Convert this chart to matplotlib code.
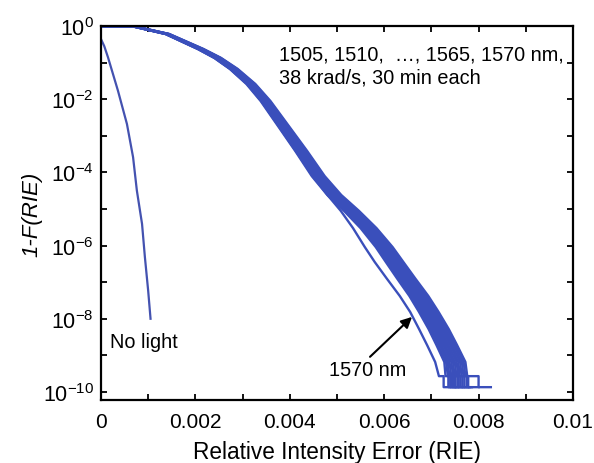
import matplotlib
matplotlib.use("Agg")
import matplotlib.pyplot as plt
from matplotlib.ticker import FixedLocator, MultipleLocator

plt.rcParams['font.family'] = ['Liberation Sans', 'DejaVu Sans']
plt.rcParams['mathtext.fontset'] = 'custom'
plt.rcParams['mathtext.rm'] = 'Liberation Sans'
plt.rcParams['mathtext.it'] = 'Liberation Sans:italic'
plt.rcParams['mathtext.default'] = 'regular'

# ---- data -----------------------------------------------------------------
# 1-F(RIE) levels shared by the wavelength curves
levels = [1.0, 0.957, 0.604, 0.235, 0.134, 0.0669, 0.026, 8.9e-3, 1.74e-3,
          3.85e-4, 7.9e-5, 2.4e-5, 8.9e-6, 3.0e-6, 9.1e-7, 3.55e-7, 1.23e-7,
          4.2e-8, 1.54e-8, 5.2e-9, 1.9e-9, 6.6e-10,
          2.7e-10, 2.7e-10, 1.35e-10, 1.35e-10]

wavelengths = [1505, 1510, 1515, 1520, 1525, 1530, 1535, 1540, 1545, 1550,
               1555, 1560, 1565, 1570]

rie_1505 = [0, 0.000727, 0.001414, 0.002121, 0.002485, 0.002828, 0.003192, 0.003505, 0.003899,
            0.004262, 0.004626, 0.004969, 0.005333, 0.005696, 0.00603, 0.006252, 0.006504,
            0.006767, 0.006979, 0.007191, 0.007363, 0.007535,
            0.00757, 0.00762, 0.00762, 0.00768]
rie_1510 = [0, 0.000738, 0.001435, 0.002153, 0.002522, 0.00287, 0.003239, 0.003557, 0.003957,
            0.004326, 0.004695, 0.005043, 0.005412, 0.005781, 0.006119, 0.006345, 0.006601,
            0.006868, 0.007083, 0.007298, 0.007472, 0.007647,
            0.00768, 0.00775, 0.00775, 0.00782]
rie_1515 = [0, 0.000713, 0.001386, 0.002079, 0.002435, 0.002772, 0.003128, 0.003435, 0.003821,
            0.004178, 0.004534, 0.004871, 0.005227, 0.005584, 0.00591, 0.006128, 0.006376,
            0.006633, 0.006841, 0.007049, 0.007217, 0.007385,
            0.00742, 0.00748, 0.00748, 0.00756]
rie_1520 = [0, 0.000745, 0.001449, 0.002174, 0.002546, 0.002898, 0.003271, 0.003591, 0.003995,
            0.004368, 0.00474, 0.005092, 0.005465, 0.005837, 0.006179, 0.006407, 0.006665,
            0.006935, 0.007152, 0.007369, 0.007545, 0.007721,
            0.00776, 0.0080, 0.0080, 0.00826]
rie_1525 = [0, 0.00072, 0.0014, 0.0021, 0.00246, 0.0028, 0.00316, 0.00347, 0.00386,
            0.00422, 0.00458, 0.00492, 0.00528, 0.00564, 0.00597, 0.00619, 0.00644,
            0.0067, 0.00691, 0.00712, 0.00729, 0.00746,
            0.00749, 0.00755, 0.00755, 0.00778]
rie_1530 = [0, 0.000731, 0.001421, 0.002132, 0.002497, 0.002842, 0.003207, 0.003522, 0.003918,
            0.004283, 0.004649, 0.004994, 0.005359, 0.005725, 0.00606, 0.006283, 0.006537,
            0.006801, 0.007014, 0.007227, 0.007399, 0.007572,
            0.0076, 0.00766, 0.00766, 0.00772]
rie_1535 = [0, 0.000706, 0.001372, 0.002058, 0.002411, 0.002744, 0.003097, 0.003401, 0.003783,
            0.004136, 0.004488, 0.004822, 0.005174, 0.005527, 0.005851, 0.006066, 0.006311,
            0.006566, 0.006772, 0.006978, 0.007144, 0.007311,
            0.00735, 0.0074, 0.0074, 0.0075]
rie_1540 = [0, 0.000742, 0.001442, 0.002163, 0.002534, 0.002884, 0.003255, 0.003574, 0.003976,
            0.004347, 0.004717, 0.005068, 0.005438, 0.005809, 0.006149, 0.006376, 0.006633,
            0.006901, 0.007117, 0.007334, 0.007509, 0.007684,
            0.00772, 0.00778, 0.00778, 0.00786]
rie_1545 = [0, 0.000724, 0.001407, 0.002111, 0.002472, 0.002814, 0.003176, 0.003487, 0.003879,
            0.004241, 0.004603, 0.004945, 0.005306, 0.005668, 0.006, 0.006221, 0.006472,
            0.006734, 0.006945, 0.007156, 0.007326, 0.007497,
            0.00753, 0.00758, 0.00758, 0.00764]
rie_1550 = [0, 0.000716, 0.001393, 0.00209, 0.002448, 0.002786, 0.003144, 0.003453, 0.003841,
            0.004199, 0.004557, 0.004895, 0.005254, 0.005612, 0.00594, 0.006159, 0.006408,
            0.006667, 0.006875, 0.007084, 0.007254, 0.007423,
            0.00746, 0.0075, 0.0075, 0.00758]
rie_1555 = [0, 0.000734, 0.001428, 0.002142, 0.002509, 0.002856, 0.003223, 0.003539, 0.003937,
            0.004304, 0.004672, 0.005018, 0.005386, 0.005753, 0.006089, 0.006314, 0.006569,
            0.006834, 0.007048, 0.007262, 0.007436, 0.007609,
            0.00764, 0.0077, 0.0077, 0.0080]
rie_1560 = [0, 0.000709, 0.001379, 0.002069, 0.002423, 0.002758, 0.003113, 0.003418, 0.003802,
            0.004157, 0.004511, 0.004846, 0.005201, 0.005555, 0.00588, 0.006097, 0.006343,
            0.0066, 0.006806, 0.007013, 0.007181, 0.007348,
            0.00738, 0.00744, 0.00744, 0.00752]
rie_1565 = [0, 0.000702, 0.001365, 0.002048, 0.002399, 0.00273, 0.003081, 0.003383, 0.003764,
            0.004115, 0.004466, 0.004797, 0.005148, 0.005499, 0.005821, 0.006035, 0.006279,
            0.006533, 0.006737, 0.006942, 0.007108, 0.007274,
            0.0073, 0.00736, 0.00736, 0.00745]
rie_1570 = [0, 0.0007, 0.00137, 0.00206, 0.00241, 0.00274, 0.0031, 0.0034, 0.00378,
            0.00413, 0.00449, 0.0048, 0.00508, 0.00534, 0.00559, 0.0058, 0.00606,
            0.00633, 0.00655, 0.00674, 0.00691, 0.00708,
            0.00716, 0.00726, 0.00726, 0.0074]

rie_curves = [rie_1505, rie_1510, rie_1515, rie_1520, rie_1525, rie_1530, rie_1535,
              rie_1540, rie_1545, rie_1550, rie_1555, rie_1560, rie_1565, rie_1570]

# no-light reference curve
nolight_rie = [0, 0.00007, 0.000148, 0.00036, 0.00055, 0.00068, 0.00076, 0.00087,
               0.00093, 0.001, 0.00105]
nolight_p = [0.44, 0.28, 0.14, 1.7e-2, 2.1e-3, 2.6e-4, 3.2e-5, 3.9e-6,
             4.9e-7, 5.8e-8, 1e-8]

xticks = [0, 0.002, 0.004, 0.006, 0.008, 0.01]
xtick_labels = ['0', '0.002', '0.004', '0.006', '0.008', '0.01']
yticks = [1e0, 1e-1, 1e-2, 1e-3, 1e-4, 1e-5, 1e-6, 1e-7, 1e-8, 1e-9, 1e-10]
ytick_labels = ['$10^{0}$', '', '$10^{-2}$', '', '$10^{-4}$', '', '$10^{-6}$', '',
                '$10^{-8}$', '', '$10^{-10}$']

# ---- figure ---------------------------------------------------------------
fig = plt.figure(figsize=(5.94, 4.64), dpi=100)
ax = fig.add_axes([0.170, 0.1358, 0.7946, 0.806])

blue = '#3a4fbb'
for r in rie_curves:
    ax.plot(r, levels, color=blue, lw=1.7, solid_joinstyle='round')
ax.plot(nolight_rie, nolight_p, color='#4452b0', lw=1.6)

ax.set_yscale('log')
ax.set_xlim(0, 0.01)
ax.set_ylim(10 ** -10.22, 1.0)

ax.xaxis.set_major_locator(FixedLocator(xticks))
ax.set_xticklabels(xtick_labels)
ax.xaxis.set_minor_locator(MultipleLocator(0.001))
ax.yaxis.set_major_locator(FixedLocator(yticks))
ax.set_yticklabels(ytick_labels)
ax.yaxis.set_minor_locator(FixedLocator([]))

ax.tick_params(which='both', direction='in', top=True, right=True,
               length=4.5, width=1.3, labelsize=15, pad=9)
ax.tick_params(axis='y', labelsize=15.5, pad=5)
for s in ax.spines.values():
    s.set_linewidth(1.6)

ax.set_xlabel('Relative Intensity Error (RIE)', fontsize=16.3, labelpad=6)
ax.set_ylabel('1-F(RIE)', fontsize=16, fontstyle='italic')
ax.yaxis.set_label_coords(-0.125, 0.5)

ax.text(0.00377, 10 ** -0.765, '1505, 1510,  \u2026, 1565, 1570 nm,',
        fontsize=14.3, ha='left', va='center')
ax.text(0.00377, 10 ** -1.39, '38 krad/s, 30 min each',
        fontsize=14.3, ha='left', va='center')
ax.text(0.00019, 10 ** -8.63, 'No light', fontsize=14.3, ha='left', va='center')
ax.annotate('', xy=(0.00659, 10 ** -7.95), xytext=(0.0057, 10 ** -9.04),
            arrowprops=dict(arrowstyle='-|>', color='black', lw=1.5,
                            mutation_scale=16, shrinkA=0, shrinkB=0))
ax.text(0.005646, 10 ** -9.385, '1570 nm', fontsize=14.3, ha='center', va='center')

fig.savefig('out.png', dpi=100)
